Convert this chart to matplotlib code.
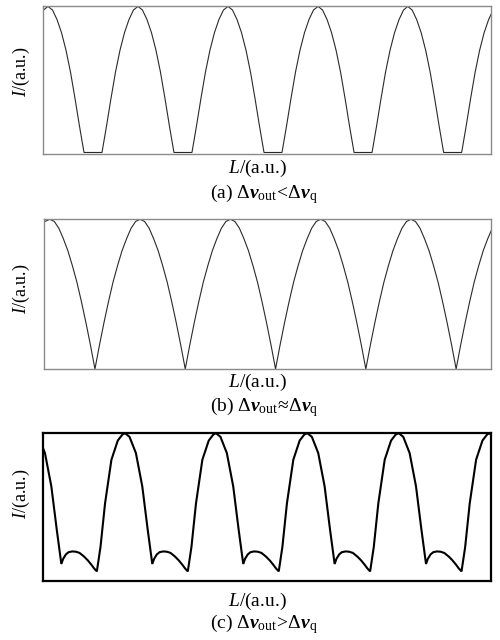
import matplotlib

matplotlib.use("Agg")
import matplotlib.pyplot as plt  # noqa: E402
import numpy as np  # noqa: E402

plt.rcParams["font.family"] = "Liberation Serif"
plt.rcParams["mathtext.fontset"] = "custom"
plt.rcParams["mathtext.rm"] = "Liberation Serif"
plt.rcParams["mathtext.it"] = "Liberation Serif:italic"
plt.rcParams["mathtext.bf"] = "Liberation Serif:italic:bold"

# One period of each trace (phase 0 = intensity peak),
# plus where the peaks sit along L (axis runs 0..5).
PHASE_A = [0.0, 0.05, 0.10, 0.15, 0.20, 0.25, 0.30, 0.35, 0.40,
           0.60, 0.65, 0.70, 0.75, 0.80, 0.85, 0.90, 0.95]
I_A = [1.0, 0.975, 0.91, 0.82, 0.70, 0.55, 0.37, 0.18, 0.0,
       0.0, 0.18, 0.37, 0.55, 0.70, 0.82, 0.91, 0.975]
PEAKS_A = [-0.95, 0.056, 1.06, 2.065, 3.07, 4.07, 5.07]
PERIOD_A = 1.004

PHASE_B = [0.0, 0.05, 0.10, 0.15, 0.20, 0.25, 0.30, 0.35, 0.40, 0.45,
           0.50, 0.55, 0.60, 0.65, 0.70, 0.75, 0.80, 0.85, 0.90, 0.95]
I_B = [1.0, 0.985, 0.94, 0.87, 0.79, 0.69, 0.58, 0.45, 0.31, 0.16,
       0.0, 0.16, 0.31, 0.45, 0.58, 0.69, 0.79, 0.87, 0.94, 0.985]
PEAKS_B = [-0.95, 0.065, 1.075, 2.085, 3.095, 4.105, 5.115]
PERIOD_B = 1.01

PHASE_C = [0.0, 0.05, 0.12, 0.19, 0.25, 0.30, 0.32, 0.35, 0.38, 0.42, 0.46,
           0.50, 0.55, 0.59, 0.63, 0.66, 0.69, 0.73, 0.78, 0.85, 0.92, 0.97]
I_C = [1.0, 0.975, 0.865, 0.64, 0.345, 0.115, 0.15, 0.18, 0.195, 0.20, 0.198,
       0.19, 0.165, 0.14, 0.11, 0.085, 0.065, 0.23, 0.525, 0.82, 0.95, 0.99]
PEAKS_C = [-0.10, 0.915, 1.93, 2.95, 3.97, 4.98]
PERIOD_C = 1.016

CAPTIONS = [
    r"(a) $\Delta\mathbf{v}_{\mathrm{out}}\!<\!\Delta\mathbf{v}_{\mathrm{q}}$",
    r"(b) $\Delta\mathbf{v}_{\mathrm{out}}\!\approx\!\Delta\mathbf{v}_{\mathrm{q}}$",
    r"(c) $\Delta\mathbf{v}_{\mathrm{out}}\!>\!\Delta\mathbf{v}_{\mathrm{q}}$",
]


def trace(peaks, phase, vals, period):
    xs, ys = [], []
    for p in peaks:
        xs.extend(p + np.asarray(phase) * period)
        ys.extend(vals)
    return np.array(xs), np.array(ys)


fig = plt.figure(figsize=(5.0, 6.4), dpi=100)

panels = [
    # axes rect, trace, ylim, line color/width, frame color/width, label y's
    ([0.086, 0.759, 0.896, 0.231], (PEAKS_A, PHASE_A, I_A, PERIOD_A), (-0.012, 1.0),
     ("#2a2a2a", 0.8), ("#8a8a8a", 1.0), (0.888, 0.7375, 0.697)),
    ([0.088, 0.4234, 0.894, 0.234], (PEAKS_B, PHASE_B, I_B, PERIOD_B), (0.0, 1.0),
     ("#2a2a2a", 0.8), ("#8a8a8a", 1.0), (0.548, 0.402, 0.364)),
    ([0.086, 0.0922, 0.896, 0.231], (PEAKS_C, PHASE_C, I_C, PERIOD_C), (0.0, 1.0),
     ("black", 1.5), ("black", 1.6), (0.228, 0.061, 0.025)),
]

for (rect, tr, ylim, (lc, lw), (fc, fw), (ly, xly, cy)), cap in zip(panels, CAPTIONS):
    ax = fig.add_axes(rect)
    x, y = trace(*tr)
    ax.plot(x, y, color=lc, lw=lw, solid_joinstyle="miter")
    ax.set_xlim(0, 5)
    ax.set_ylim(*ylim)
    ax.set_xticks([])
    ax.set_yticks([])
    for s in ax.spines.values():
        s.set_color(fc)
        s.set_linewidth(fw)
    fig.text(0.042, ly, r"$I$/(a.u.)", rotation=90, ha="center", va="center", fontsize=13)
    fig.text(0.515, xly, r"$L$/(a.u.)", ha="center", va="center", fontsize=14)
    fig.text(0.528, cy, cap, ha="center", va="center", fontsize=14)

fig.savefig("out.png", dpi=100)
